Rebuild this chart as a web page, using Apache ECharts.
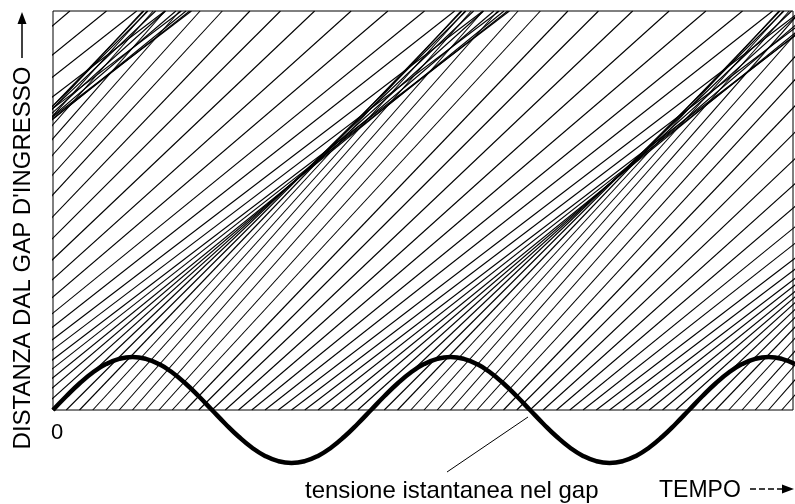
<!DOCTYPE html>
<html>
<head>
<meta charset="utf-8">
<script src="https://cdn.jsdelivr.net/npm/echarts@6/dist/echarts.min.js"></script>
<style>
html,body{margin:0;padding:0;background:#fff;}
#chart{width:795px;height:504px;}
</style>
</head>
<body>
<div id="chart"></div>
<script>
// Launch phase of each electron trajectory (degrees of the gap voltage)
var launchPhase = [
  -510,-495,-480,-465,-450,-435,-420,-405,-390,-375,
  -360,-345,-330,-315,-300,-285,-270,-255,-240,-225,-210,-195,-180,-165,-150,-135,-120,-105,-90,-75,-60,-45,-30,-15,
  0,15,30,45,60,75,90,105,120,135,150,165,180,195,210,225,240,255,270,285,300,315,330,345,
  360,375,390,405,420,435,450,465,480,495,510,525,540,555,570,585,600,615,630,645,660,675,690,705,
  720,735,750,765,780,795,810,825
];
// Speed of each trajectory (distance units per degree)
var speed = [
  0.189,0.180,0.174,0.169,0.168,0.169,0.174,0.180,0.189,0.199,
  0.210,0.221,0.231,0.240,0.246,0.251,0.252,0.251,0.246,0.240,0.231,0.221,0.210,0.199,0.189,0.180,0.174,0.169,0.168,0.169,0.174,0.180,0.189,0.199,
  0.210,0.221,0.231,0.240,0.246,0.251,0.252,0.251,0.246,0.240,0.231,0.221,0.210,0.199,0.189,0.180,0.174,0.169,0.168,0.169,0.174,0.180,0.189,0.199,
  0.210,0.221,0.231,0.240,0.246,0.251,0.252,0.251,0.246,0.240,0.231,0.221,0.210,0.199,0.189,0.180,0.174,0.169,0.168,0.169,0.174,0.180,0.189,0.199,
  0.210,0.221,0.231,0.240,0.246,0.251,0.252,0.251
];
// Gap voltage (normalized), sampled every 15 degrees
var voltPhase = [0,15,30,45,60,75,90,105,120,135,150,165,180,195,210,225,240,255,270,285,300,315,330,345,
  360,375,390,405,420,435,450,465,480,495,510,525,540,555,570,585,600,615,630,645,660,675,690,705,
  720,735,750,765,780,795,810,825,840];
var voltage = [0,0.259,0.5,0.707,0.866,0.966,1,0.966,0.866,0.707,0.5,0.259,0,-0.259,-0.5,-0.707,-0.866,-0.966,-1,-0.966,-0.866,-0.707,-0.5,-0.259,
  0,0.259,0.5,0.707,0.866,0.966,1,0.966,0.866,0.707,0.5,0.259,0,-0.259,-0.5,-0.707,-0.866,-0.966,-1,-0.966,-0.866,-0.707,-0.5,-0.259,
  0,0.259,0.5,0.707,0.866,0.966,1,0.966,0.866];

var X_MAX = 837.7;   // time axis extent (degrees)
var Y_MAX = 100;     // distance axis extent

var FONT = '"Liberation Sans", Arial, Helvetica, sans-serif';
var chart = echarts.init(document.getElementById('chart'), null, {renderer:'canvas'});

var series = [];
for (var i = 0; i < launchPhase.length; i++) {
  var t0 = launchPhase[i];
  series.push({
    type: 'line', xAxisIndex: 0, yAxisIndex: 0,
    data: [[t0, 0], [t0 + Y_MAX / speed[i], Y_MAX]],
    symbol: 'none', clip: true, silent: true,
    lineStyle: {color: '#000', width: 1.1}
  });
}
series.push({
  type: 'line', xAxisIndex: 1, yAxisIndex: 1,
  data: voltPhase.map(function (p, k) { return [p, voltage[k]]; }),
  symbol: 'none', smooth: 0.5, clip: false, silent: true, z: 5,
  lineStyle: {color: '#000', width: 4.5}
});

var option = {
  animation: false,
  backgroundColor: '#fff',
  grid: [
    {left: 53, top: 11, width: 740, height: 399, show: true, borderColor: '#000', borderWidth: 1, backgroundColor: 'transparent'},
    {left: 53, top: 357, width: 740, height: 106, show: false}
  ],
  xAxis: [
    {gridIndex: 0, type: 'value', min: 0, max: X_MAX, show: false},
    {gridIndex: 1, type: 'value', min: 0, max: X_MAX, show: false}
  ],
  yAxis: [
    {gridIndex: 0, type: 'value', min: 0, max: Y_MAX, show: false},
    {gridIndex: 1, type: 'value', min: -1, max: 1, show: false}
  ],
  series: series,
  graphic: [
    {type: 'text', x: 23, y: 258, rotation: Math.PI / 2,
     style: {text: "DISTANZA DAL GAP D'INGRESSO", font: '24px ' + FONT, fill: '#000', align: 'center', verticalAlign: 'middle'}},
    {type: 'line', shape: {x1: 22, y1: 58, x2: 22, y2: 22}, style: {stroke: '#000', lineWidth: 1.5}},
    {type: 'polygon', shape: {points: [[22, 12], [17.5, 24], [26.5, 24]]}, style: {fill: '#000'}},
    {type: 'text', x: 57, y: 433,
     style: {text: '0', font: '22px ' + FONT, fill: '#000', align: 'center', verticalAlign: 'middle'}},
    {type: 'line', shape: {x1: 447, y1: 472, x2: 528, y2: 417}, style: {stroke: '#000', lineWidth: 1}},
    {type: 'text', x: 305, y: 491,
     style: {text: 'tensione istantanea nel gap', font: '24px ' + FONT, fill: '#000', align: 'left', verticalAlign: 'middle'}},
    {type: 'text', x: 659, y: 491,
     style: {text: 'TEMPO', font: '23px ' + FONT, fill: '#000', align: 'left', verticalAlign: 'middle'}},
    {type: 'line', shape: {x1: 750, y1: 489, x2: 784, y2: 489}, style: {stroke: '#000', lineWidth: 1.5, lineDash: [6, 3]}},
    {type: 'polygon', shape: {points: [[794, 489], [782, 484.5], [782, 493.5]]}, style: {fill: '#000'}}
  ]
};
chart.setOption(option);
</script>
</body>
</html>
